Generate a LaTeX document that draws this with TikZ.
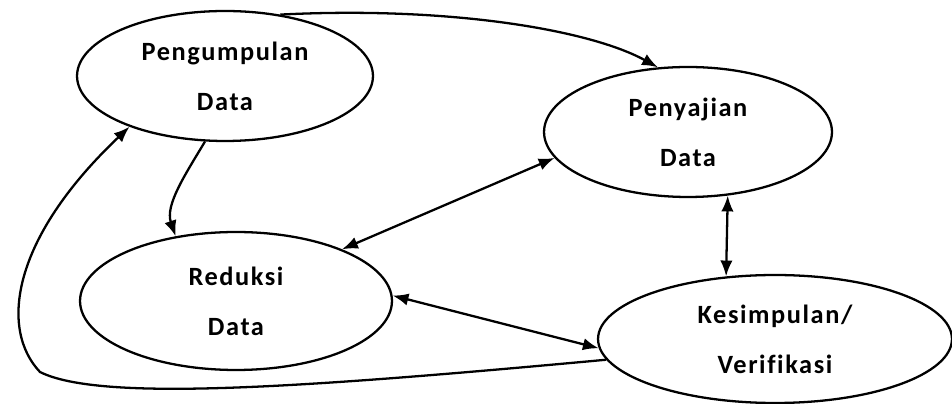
\documentclass[tikz,border=0pt]{standalone}
\usepackage{fontspec}
\setmainfont{Carlito}[LetterSpace=6,Ligatures=NoCommon]
\usetikzlibrary{shapes.geometric,arrows.meta}

\begin{document}
\begin{tikzpicture}[x=0.02cm,y=-0.02cm,
  stage/.style={ellipse,draw,line width=1.3pt,align=center,inner sep=0pt,
    font=\bfseries\fontsize{15}{28.5}\selectfont},
  flow/.style={line width=1.3pt,-{Latex[length=9pt,width=7pt]}},
  both/.style={line width=1.3pt,{Latex[length=9pt,width=7pt]}-{Latex[length=9pt,width=7pt]}}]
  \useasboundingbox (0,0) rectangle (952,404);
  \node[stage,minimum width=5.92cm,minimum height=2.6cm] (kumpul) at (225,76) {Pengumpulan\\Data};
  \node[stage,minimum width=5.76cm,minimum height=2.6cm] (saji) at (688,132) {Penyajian\\Data};
  \node[stage,minimum width=6.24cm,minimum height=2.76cm] (reduksi) at (236,301) {Reduksi\\Data};
  \node[stage,minimum width=7.08cm,minimum height=2.56cm] (simpul) at (775,339) {Kesimpulan/\\Verifikasi};
  % arus utama
  \draw[flow] (kumpul.48) .. controls (450,6) and (590,30) .. (saji.115);
  \draw[flow] (kumpul.253) .. controls (185,175) and (165,205) .. (reduksi.133);
  \draw[flow] (simpul.187) .. controls (300,388) and (100,402) .. (40,372)
    .. controls (0,330) and (10,240) .. (kumpul.208);
  % arus dua arah
  \draw[both] (saji.191) -- (reduksi.26);
  \draw[both] (saji.-58) -- (simpul.128);
  \draw[both] (reduksi.2) -- (simpul.183.5);
\end{tikzpicture}
\end{document}
